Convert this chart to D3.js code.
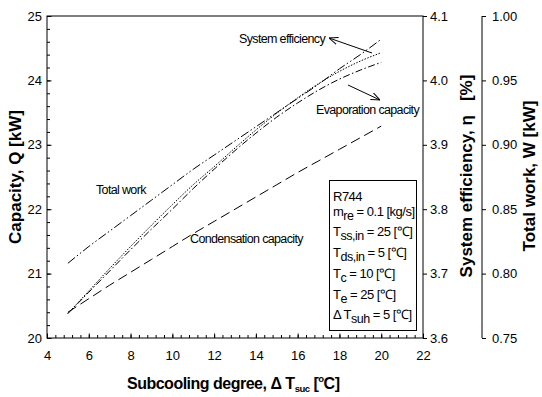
<!DOCTYPE html>
<html>
<head>
<meta charset="utf-8">
<script src="https://cdn.jsdelivr.net/npm/d3@7"></script>
<style>
  body { margin: 0; background: #fff; }
  text { font-family: "Liberation Sans", Arial, sans-serif; fill: #000; }
</style>
</head>
<body>
<figure id="chart" style="margin:0"></figure>
<script>
// subcooling degree [C]
const subcooling = [5, 6, 7, 8, 9, 10, 11, 12, 13, 14, 15, 16, 17, 18, 19, 20];
// total work W [kW] (right axis 2)
const totalWork = [0.808, 0.821, 0.833, 0.845, 0.857, 0.869, 0.881, 0.892, 0.903, 0.914, 0.925, 0.936, 0.947, 0.959, 0.970, 0.982];
// system efficiency eta (right axis 1)
const systemEff = [3.638, 3.673, 3.708, 3.742, 3.775, 3.807, 3.838, 3.866, 3.895, 3.923, 3.949, 3.973, 3.995, 4.014, 4.030, 4.043];
// capacities Q [kW] (left axis)
const evapCapacity = [20.38, 20.71, 21.04, 21.37, 21.69, 22.00, 22.32, 22.62, 22.91, 23.18, 23.43, 23.65, 23.85, 24.02, 24.16, 24.28];
const condCapacity = [20.40, 20.61, 20.82, 21.02, 21.22, 21.42, 21.62, 21.81, 22.00, 22.19, 22.38, 22.57, 22.75, 22.93, 23.11, 23.29];

const xTicks = [4, 6, 8, 10, 12, 14, 16, 18, 20, 22];
const qTicks = [20, 21, 22, 23, 24, 25];
const etaTicks = [3.6, 3.7, 3.8, 3.9, 4.0, 4.1];
const wTicks = [0.75, 0.80, 0.85, 0.90, 0.95, 1.00];

const width = 542, height = 397;
const pLeft = 47, pRight = 423, pTop = 16, pBottom = 338;

const svg = d3.select("figure#chart")
  .append("svg")
  .attr("width", width)
  .attr("height", height);

const x = d3.scaleLinear().domain([4, 22]).range([pLeft, pRight]);
const yQ = d3.scaleLinear().domain([20, 25]).range([pBottom, pTop]);
const yEta = d3.scaleLinear().domain([3.6, 4.1]).range([pBottom, pTop]);
const yW = d3.scaleLinear().domain([0.75, 1.0]).range([pBottom, pTop]);

function styleAxis(g, size) {
  g.select(".domain").remove();
  g.selectAll("line").attr("stroke", "#000");
  g.selectAll("text").style("font-size", size + "px").attr("fill", "#000");
}

// minor ticks first
svg.append("g")
  .attr("transform", "translate(" + pLeft + ",0)")
  .call(d3.axisLeft(yQ).tickValues(d3.range(20, 25.01, 0.2)).tickSize(-3).tickFormat(""))
  .call(g => styleAxis(g, 13));
svg.append("g")
  .attr("transform", "translate(0," + pBottom + ")")
  .call(d3.axisBottom(x).tickValues(d3.range(4, 22.01, 0.4)).tickSize(-3).tickFormat(""))
  .call(g => styleAxis(g, 13));

// major ticks
svg.append("g")
  .attr("transform", "translate(" + pLeft + ",0)")
  .call(d3.axisLeft(yQ).tickValues(qTicks).tickSize(-4.5).tickPadding(5).tickFormat(d3.format("d")))
  .call(g => styleAxis(g, 13));
svg.append("g")
  .attr("transform", "translate(0," + pBottom + ")")
  .call(d3.axisBottom(x).tickValues(xTicks).tickSize(-4.5).tickPadding(12.5).tickFormat(d3.format("d")))
  .call(g => styleAxis(g, 13));
svg.append("g")
  .attr("transform", "translate(" + pRight + ",0)")
  .call(d3.axisRight(yEta).tickValues(etaTicks).tickSize(4).tickPadding(3).tickFormat(d3.format(".1f")))
  .call(g => styleAxis(g, 13));
svg.append("g")
  .attr("transform", "translate(482,0)")
  .call(d3.axisRight(yW).tickValues(wTicks).tickSize(4).tickPadding(6).tickFormat(d3.format(".2f")))
  .call(g => styleAxis(g, 13));

// frame and second right axis line
svg.append("rect")
  .attr("x", pLeft).attr("y", pTop)
  .attr("width", pRight - pLeft).attr("height", pBottom - pTop)
  .attr("fill", "none").attr("stroke", "#000").attr("stroke-width", 1);
svg.append("line")
  .attr("x1", 482).attr("x2", 482).attr("y1", pTop).attr("y2", pBottom)
  .attr("stroke", "#000");

// the curves
const series = [
  { values: totalWork, y: yW, dash: "9,2.5,1.5,2.5,1.5,2.5" },
  { values: systemEff, y: yEta, dash: "1.5,1.5" },
  { values: evapCapacity, y: yQ, dash: "7,2.5,1.5,2.5" },
  { values: condCapacity, y: yQ, dash: "10,5" }
];
series.forEach(s => {
  const line = d3.line()
    .x((d, i) => x(subcooling[i]))
    .y(d => s.y(d))
    .curve(d3.curveMonotoneX);
  svg.append("path")
    .datum(s.values)
    .attr("d", line)
    .attr("fill", "none")
    .attr("stroke", "#000")
    .attr("stroke-width", 1)
    .attr("stroke-dasharray", s.dash);
});

// annotations
const notes = [
  { t: "System efficiency", x: 239, y: 43 },
  { t: "Evaporation capacity", x: 316, y: 114 },
  { t: "Total work", x: 96, y: 194 },
  { t: "Condensation capacity", x: 190, y: 243 }
];
svg.selectAll("text.note")
  .data(notes)
  .enter()
  .append("text")
  .attr("class", "note")
  .attr("x", d => d.x).attr("y", d => d.y)
  .style("font-size", "12.5px")
  .style("letter-spacing", "-0.65px")
  .text(d => d.t);

// arrows
svg.append("defs").append("marker")
  .attr("id", "arrow")
  .attr("viewBox", "0 0 10 10")
  .attr("refX", 10).attr("refY", 5)
  .attr("markerWidth", 9).attr("markerHeight", 9)
  .attr("markerUnits", "userSpaceOnUse")
  .attr("orient", "auto")
  .append("path")
  .attr("d", "M0,1 L10,5 L0,9")
  .attr("fill", "none").attr("stroke", "#000").attr("stroke-width", 1.1);
[[372, 53, 329, 38], [348, 85, 380, 100]].forEach(a => {
  svg.append("line")
    .attr("x1", a[0]).attr("y1", a[1]).attr("x2", a[2]).attr("y2", a[3])
    .attr("stroke", "#000").attr("stroke-width", 1)
    .attr("marker-end", "url(#arrow)");
});

// condition box
svg.append("rect")
  .attr("x", 329.5).attr("y", 180.5)
  .attr("width", 87).attr("height", 150)
  .attr("fill", "#fff").attr("stroke", "#000");
const boxLines = [
  [["R744", 0]],
  [["m", 0], ["re", 4], [" = 0.1 [kg/s]", -4]],
  [["T", 0], ["ss,in", 4], [" = 25 [\u2103]", -4]],
  [["T", 0], ["ds,in", 4], [" = 5 [\u2103]", -4]],
  [["T", 0], ["c", 4], [" = 10 [\u2103]", -4]],
  [["T", 0], ["e", 4], [" = 25 [\u2103]", -4]],
  [["\u0394 T", 0], ["suh", 4], [" = 5 [\u2103]", -4]]
];
const boxBase = [201, 216, 236, 257, 278, 299, 319];
boxLines.forEach((parts, i) => {
  const t = svg.append("text")
    .attr("x", 333).attr("y", boxBase[i])
    .style("font-size", "13px")
    .style("letter-spacing", "-0.5px");
  parts.forEach(p => {
    t.append("tspan")
      .attr("dy", p[1])
      .style("font-size", p[1] > 0 ? "12.5px" : "13px")
      .text(p[0]);
  });
});

// axis titles
svg.append("text")
  .attr("transform", "translate(21,177) rotate(-90)")
  .attr("text-anchor", "middle")
  .style("font-size", "17px").style("font-weight", "bold")
  .text("Capacity, Q [kW]");
svg.append("text")
  .attr("transform", "translate(472,176) rotate(-90)")
  .attr("text-anchor", "middle")
  .style("font-size", "17px").style("font-weight", "bold")
  .style("white-space", "pre")
  .text("System efficiency, \u03b7   [%]");
svg.append("text")
  .attr("transform", "translate(535,176) rotate(-90)")
  .attr("text-anchor", "middle")
  .style("font-size", "17px").style("font-weight", "bold")
  .text("Total work, W [kW]");

const xt = svg.append("text")
  .attr("x", 127).attr("y", 389)
  .style("font-size", "16px").style("font-weight", "bold")
  .style("letter-spacing", "-0.5px");
xt.append("tspan").text("Subcooling degree, \u0394 T");
xt.append("tspan").attr("dy", 3).style("font-size", "9.5px").text("suc");
xt.append("tspan").attr("dy", -3).text(" [");
xt.append("tspan").attr("dy", -7).style("font-size", "9.5px").text("o");
xt.append("tspan").attr("dy", 7).text("C]");
</script>
</body>
</html>
